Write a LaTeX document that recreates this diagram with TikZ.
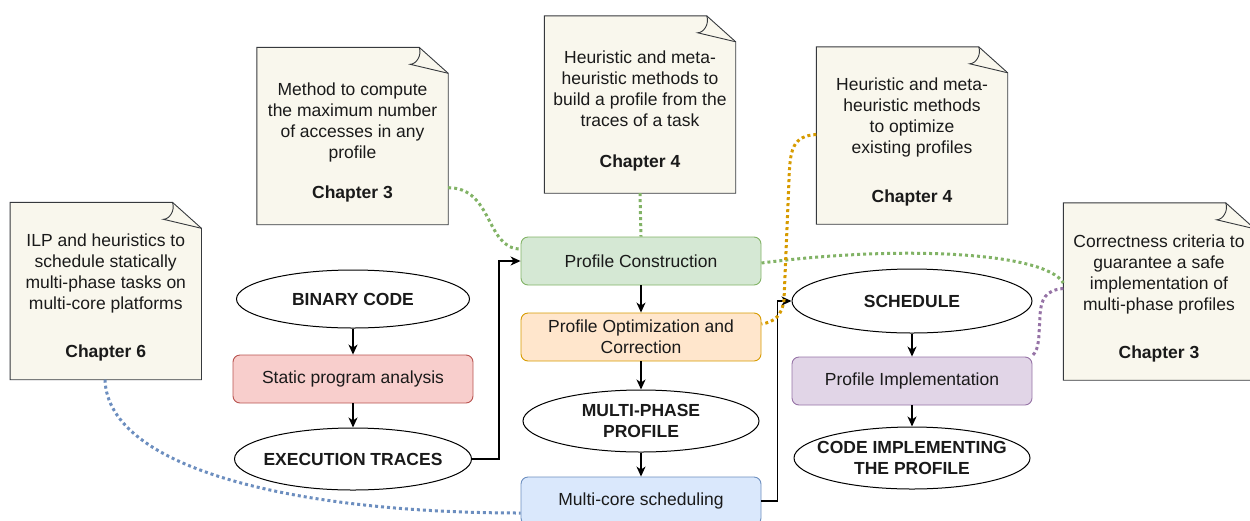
\documentclass[tikz,border=0pt]{standalone}
\usepackage{fontspec}
\setmainfont{Liberation Sans}
\usetikzlibrary{shapes.geometric,arrows.meta,calc,backgrounds}
\definecolor{notefill}{HTML}{F9F7ED}
\definecolor{notedraw}{HTML}{36393D}
\definecolor{gfill}{HTML}{D5E8D4}\definecolor{gdraw}{HTML}{82B366}
\definecolor{ofill}{HTML}{FFE6CC}\definecolor{odraw}{HTML}{D79B00}
\definecolor{rfill}{HTML}{F8CECC}\definecolor{rdraw}{HTML}{B85450}
\definecolor{bfill}{HTML}{DAE8FC}\definecolor{bdraw}{HTML}{6C8EBF}
\definecolor{pfill}{HTML}{E1D5E7}\definecolor{pdraw}{HTML}{9673A6}
\definecolor{txt}{HTML}{1A1A1A}
\newcommand\notetop{\rule{0pt}{26pt}}
\newcommand\notefold[1]{%
  \begin{scope}[on background layer]
  \draw[notedraw, fill=notefill, line width=0.9pt]
    (#1.north west) -- ($(#1.north east)+(-29,0)$) -- ($(#1.north east)+(0,26)$)
    -- (#1.south east) -- (#1.south west) -- cycle;
  \end{scope}
  \draw[notedraw, line width=0.9pt]
    ($(#1.north east)+(-29,0)$) .. controls +(3,8) and +(6,0) .. ($(#1.north east)+(-38,17)$)
    -- ($(#1.north east)+(0,26)$);
}
\begin{document}
\begin{tikzpicture}[x=1pt,y=-1pt,
  every node/.style={text=txt},
  notebox/.style={rectangle, minimum width=191pt, minimum height=177pt, inner sep=0pt,
    align=center, font=\fontsize{17.5}{21}\selectfont},
  proc/.style={rectangle, rounded corners=7pt, minimum width=240pt, minimum height=48pt,
    inner sep=0pt, line width=0.9pt, align=center, font=\fontsize{17.5}{21}\selectfont},
  oval/.style={ellipse, draw=black, line width=1pt, inner xsep=-40pt, inner ysep=-10pt,
    align=center, font=\bfseries\fontsize{17.5}{21}\selectfont},
  link/.style={-{Stealth[length=10pt,width=9pt,inset=3pt]}, line width=1.4pt, black},
  dotln/.style={line width=3pt, dash pattern=on 3pt off 3pt}
]
\useasboundingbox (0,0) rectangle (1250,520);

% notes
\node[notebox] (n1) at (105.75,291) {\notetop ILP and heuristics to\\schedule statically\\multi-phase tasks on\\multi-core platforms\\[27pt]\textbf{Chapter 6}};
\notefold{n1}
\node[notebox] (n2) at (352.5,136) {\notetop Method to compute\\the maximum number\\of accesses in any\\profile\\[19pt]\textbf{Chapter 3}};
\notefold{n2}
\node[notebox] (n3) at (640,104.5) {\notetop Heuristic and meta-\\heuristic methods to\\build a profile from the\\traces of a task\\[20pt]\textbf{Chapter 4}};
\notefold{n3}
\node[notebox] (n4) at (912,135.5) {\notetop Heuristic and meta-\\heuristic methods\\to optimize\\existing profiles\\[28pt]\textbf{Chapter 4}};
\notefold{n4}
\node[notebox] (n5) at (1159,291.5) {\notetop Correctness criteria to\\guarantee a safe\\implementation of\\multi-phase profiles\\[27pt]\textbf{Chapter 3}};
\notefold{n5}

% process
\node[oval, minimum width=233pt, minimum height=58pt] (bin) at (353,299) {BINARY CODE};
\node[proc, draw=rdraw, fill=rfill] (spa) at (353,379) {Static program analysis};
\node[oval, minimum width=237pt, minimum height=62pt] (exe) at (353,459) {EXECUTION TRACES};
\node[proc, draw=gdraw, fill=gfill] (pc) at (641,261) {Profile Construction};
\node[proc, draw=odraw, fill=ofill] (poc) at (641,337) {Profile Optimization and\\Correction};
\node[oval, minimum width=236pt, minimum height=62pt] (mpp) at (641,421) {MULTI-PHASE\\PROFILE};
\node[proc, draw=bdraw, fill=bfill] (mcs) at (641,501) {Multi-core scheduling};
\node[oval, minimum width=240pt, minimum height=64pt] (sch) at (912,301) {SCHEDULE};
\node[proc, draw=pdraw, fill=pfill] (pi) at (912,381) {Profile Implementation};
\node[oval, minimum width=236pt, minimum height=62pt] (code) at (912,458) {CODE IMPLEMENTING\\THE PROFILE};

% arrows
\draw[link] (bin) -- (spa);
\draw[link] (spa) -- (exe);
\draw[link] (exe.east) -- ++(27,0) |- (pc.west);
\draw[link] (pc) -- (poc);
\draw[link] (poc) -- (mpp);
\draw[link] (mpp) -- (mcs);
\draw[link] (mcs.east) -- ++(16,0) |- (sch.west);
\draw[link] (sch) -- (pi);
\draw[link] (pi) -- (code);

% dotted links
\draw[dotln, gdraw] ($(n2.south east)+(0,-37)$) .. controls +(45,0) and +(-35,0) .. ($(pc.west)+(0,-12)$);
\draw[dotln, gdraw] (n3.south) -- (pc.north);
\draw[dotln, gdraw] ($(pc.east)+(0,2)$) .. controls (900,245) and (1045,252) .. ($(n5.west)+(0,-8.5)$);
\draw[dotln, odraw] ($(n4.west)+(0,-1)$) .. controls (792,136) and (790,150) .. (789,180)
   -- (784,300) .. controls (782,315) and (775,322) .. ($(poc.east)+(0,-13)$);
\draw[dotln, pdraw] ($(n5.west)+(0,-3)$) .. controls (1045,290) and (1041,300) .. (1040,315)
   -- (1039,335) .. controls (1038,348) and (1036,352) .. ($(pi.north east)+(0,-1)$);
\draw[dotln, bdraw] ($(n1.south)+(-0.75,0)$) .. controls (108,470) and (300,513) .. ($(mcs.west)+(0,12)$);
\end{tikzpicture}
\end{document}
